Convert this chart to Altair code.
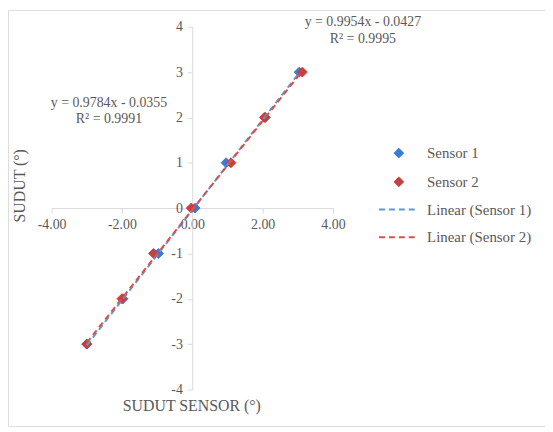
import altair as alt
import pandas as pd

# ---- data ----
y_vals = [-3, -2, -1, 0, 1, 2, 3]
sensor1_x = [-3.00, -1.97, -0.96, 0.08, 0.96, 2.08, 3.04]
sensor2_x = [-3.00, -2.00, -1.10, -0.03, 1.10, 2.05, 3.13]
series_names = ["Sensor 1", "Sensor 2"]
trend_names = ["Linear (Sensor 1)", "Linear (Sensor 2)"]
slopes = [0.9954, 0.9784]
intercepts = [-0.0427, -0.0355]
r2_vals = [0.9995, 0.9991]
x_ticks = [-4, -2, 0, 2, 4]
y_ticks = [-4, -3, -2, -1, 0, 1, 2, 3, 4]
legend_domain = series_names + trend_names
fill_colors = ["#3d7bd6", "#c8403b", "#5b9bd5", "#dd4f4a"]
dashes = [[1, 0], [1, 0], [6, 4], [6, 4]]
# label anchor points (data units) for the trendline equations
eq_x = [4.85, -2.37]
eq_y = [4.11, 2.32]
r2_y = [3.74, 1.97]

FONT = "'Liberation Serif', 'Times New Roman', 'DejaVu Serif', serif"
GREY = "#595959"
AX = "#d9d9d9"
LINE_SYM = "M-5,0H5"

pts = pd.DataFrame(
    {"x": sensor1_x + sensor2_x,
     "y": y_vals + y_vals,
     "series": [series_names[0]] * len(sensor1_x) + [series_names[1]] * len(sensor2_x)}
)

xs_all = [sensor1_x, sensor2_x]
rows = []
for i in range(2):
    for xv in (min(xs_all[i]), max(xs_all[i])):
        rows.append({"x": xv, "y": slopes[i] * xv + intercepts[i], "series": trend_names[i]})
trend = pd.DataFrame(rows)

labels = []
for i in range(2):
    sign = "-" if intercepts[i] < 0 else "+"
    labels.append({"x": eq_x[i], "y": eq_y[i],
                   "t": f"y = {slopes[i]:.4f}x {sign} {abs(intercepts[i]):.4f}"})
    labels.append({"x": eq_x[i], "y": r2_y[i], "t": f"R² = {r2_vals[i]:.4f}"})
lab = pd.DataFrame(labels)

xscale = alt.Scale(domain=[-4, 4], range=[44, 328], nice=False, zero=False)
yscale = alt.Scale(domain=[-4, 4], range=[383, 17], nice=False, zero=False)

xenc = alt.X("x:Q", scale=xscale, axis=alt.Axis(
    orient="bottom", offset=-220, values=x_ticks, format=".2f", grid=False,
    labelExpr="replace(datum.label, '\u2212', '-')",
    domainColor=AX, tickColor=AX, tickSize=5, labelPadding=5,
    labelFont=FONT, labelFontSize=14, labelColor=GREY, labelFlush=False,
    title="SUDUT SENSOR (°)", titleFont=FONT, titleFontSize=16,
    titleFontWeight="normal", titleColor=GREY, titleX=185, titleY=191))
yenc = alt.Y("y:Q", scale=yscale, axis=alt.Axis(
    orient="left", offset=-186, values=y_ticks, format="d", grid=False,
    labelExpr="replace(datum.label, '\u2212', '-')",
    domainColor=AX, tickColor=AX, tickSize=5, labelPadding=5,
    labelFont=FONT, labelFontSize=14, labelColor=GREY, labelFlush=False,
    title="SUDUT (°)", titleFont=FONT, titleFontSize=16,
    titleFontWeight="normal", titleColor=GREY, titleX=-166, titleY=177,
    titleAngle=-90))

leg = alt.Legend(title=None, orient="none", legendX=387, legendY=137,
                 labelFont=FONT, labelFontSize=15, labelColor=GREY,
                 rowPadding=12, labelOffset=21, symbolStrokeWidth=2,
                 symbolSize=64)

stroke_enc = alt.Stroke("series:N", scale=alt.Scale(domain=legend_domain, range=fill_colors), legend=leg)
fill_enc = alt.Fill("series:N", scale=alt.Scale(domain=legend_domain, range=fill_colors), legend=leg)
shape_enc = alt.Shape("series:N", scale=alt.Scale(domain=legend_domain,
                      range=["diamond", "diamond", LINE_SYM, LINE_SYM]), legend=leg)
dash_enc = alt.StrokeDash("series:N", scale=alt.Scale(domain=legend_domain, range=dashes), legend=leg)

points = alt.Chart(pts).mark_point(filled=True, opacity=1, strokeWidth=1, size=100).encode(
    x=xenc, y=yenc, fill=fill_enc, stroke=stroke_enc, shape=shape_enc,
)

lines = alt.Chart(trend).mark_line(strokeWidth=2).encode(
    x="x:Q", y="y:Q", stroke=stroke_enc, strokeDash=dash_enc, detail="series:N",
)

texts = alt.Chart(lab).mark_text(font=FONT, fontSize=14, color=GREY, align="center").encode(
    x="x:Q", y="y:Q", text="t:N")

chart = alt.layer(points, lines, texts).properties(
    width=542, height=420,
    autosize=alt.AutoSizeParams(type="none"),
    padding=0,
).configure_view(stroke=AX, strokeWidth=1).configure(background="white")

chart.save("out.html", embed_options={"renderer": "svg", "actions": False})
